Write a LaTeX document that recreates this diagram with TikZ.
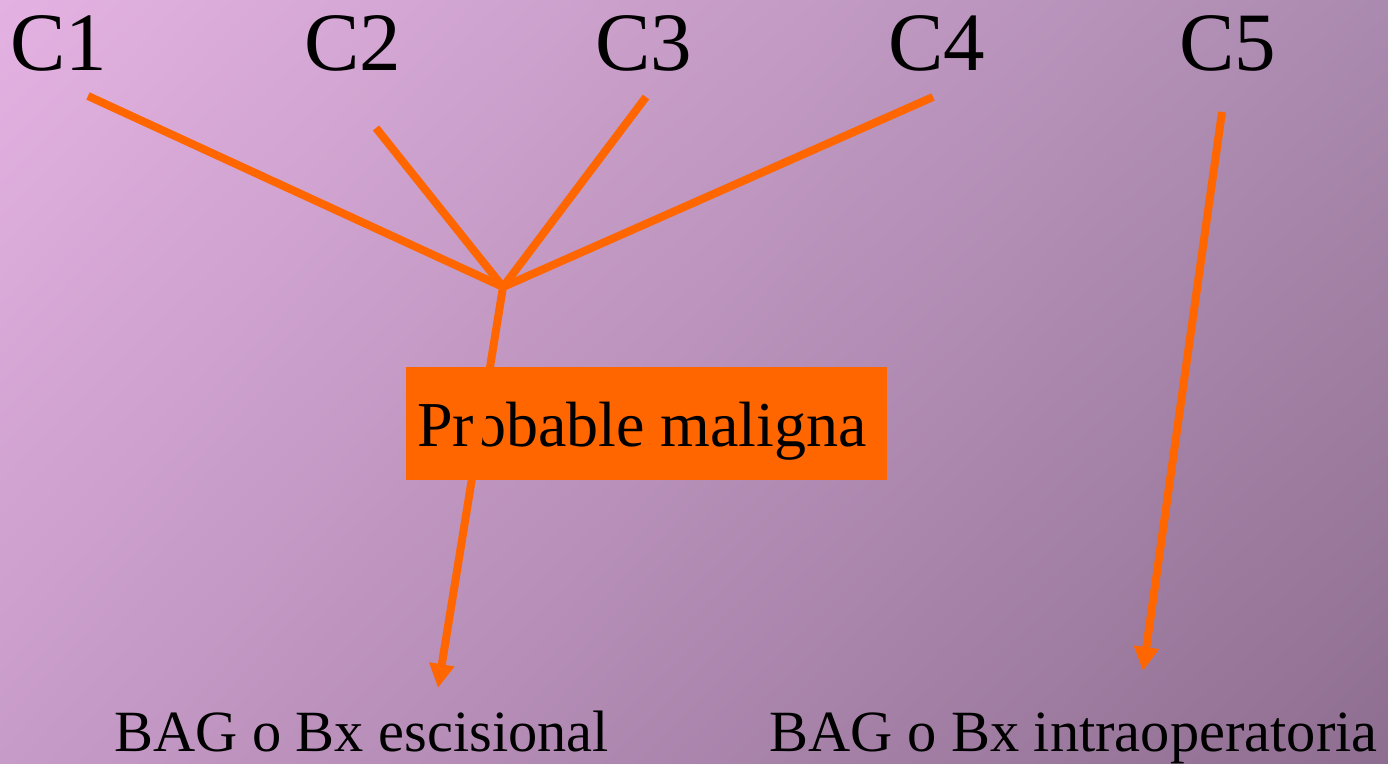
\documentclass[tikz,border=0pt]{standalone}
\usepackage{fontspec}
\setmainfont{Liberation Serif}
\usetikzlibrary{arrows.meta,shadings}

\definecolor{bgTL}{RGB}{228,178,226}
\definecolor{bgTR}{RGB}{171,138,175}
\definecolor{bgBL}{RGB}{199,155,200}
\definecolor{bgBR}{RGB}{142,110,144}
\definecolor{naranja}{RGB}{255,102,0}

\tikzset{
	clabel/.style={anchor=base, inner sep=0pt, font=\fontsize{41.5}{48}\selectfont},
	malbox/.style={fill=naranja, draw=none, inner sep=0pt, minimum width=240.5pt, minimum height=56.5pt},
	maltext/.style={anchor=base, inner sep=0pt, font=\fontsize{32}{38}\selectfont},
	bxlabel/.style={anchor=base, inner sep=0pt, font=\fontsize{29.2}{35}\selectfont},
	rama/.style={draw=naranja, line width=4pt},
	flecha/.style={rama, -{Triangle[length=12pt,width=12pt]}}
}

\begin{document}
\begin{tikzpicture}[x=0.5pt,y=0.5pt,yscale=-1,xscale=1]
	\useasboundingbox (0,0) rectangle (1388,764);
	\shade[upper left=bgTL, upper right=bgTR, lower left=bgBL, lower right=bgBR] (0,0) rectangle (1388,764);

	% categorias
	\node[clabel] (c1) at (58.5,71) {C1};
	\node[clabel] (c2) at (352.5,71) {C2};
	\node[clabel] (c3) at (643.5,71) {C3};
	\node[clabel] (c4) at (936.5,71) {C4};
	\node[clabel] (c5) at (1227.5,71) {C5};

	% caja
	\node[malbox] (box) at (646.5,423.5) {};
	\node[maltext] (mal) at (642,447) {Probable maligna};

	% destinos
	\node[bxlabel] (bx1) at (361.5,751) {BAG o Bx escisional};
	\node[bxlabel] (bx2) at (1073.5,751) {BAG o Bx intraoperatoria};

	\coordinate (s1) at (88,96);
	\coordinate (s2) at (376,128);
	\coordinate (s3) at (646,97);
	\coordinate (s4) at (933,97);
	\coordinate (s5) at (1222,112);
	\coordinate (j) at (503,287);
	\coordinate (t1) at (438,688);
	\coordinate (t5) at (1143,671);

	\draw[rama] (s1) -- (j);
	\draw[rama] (s2) -- (j);
	\draw[rama] (s3) -- (j);
	\draw[rama] (s4) -- (j);
	\draw[flecha] (j) -- (t1);
	\draw[flecha] (s5) -- (t5);
\end{tikzpicture}
\end{document}
